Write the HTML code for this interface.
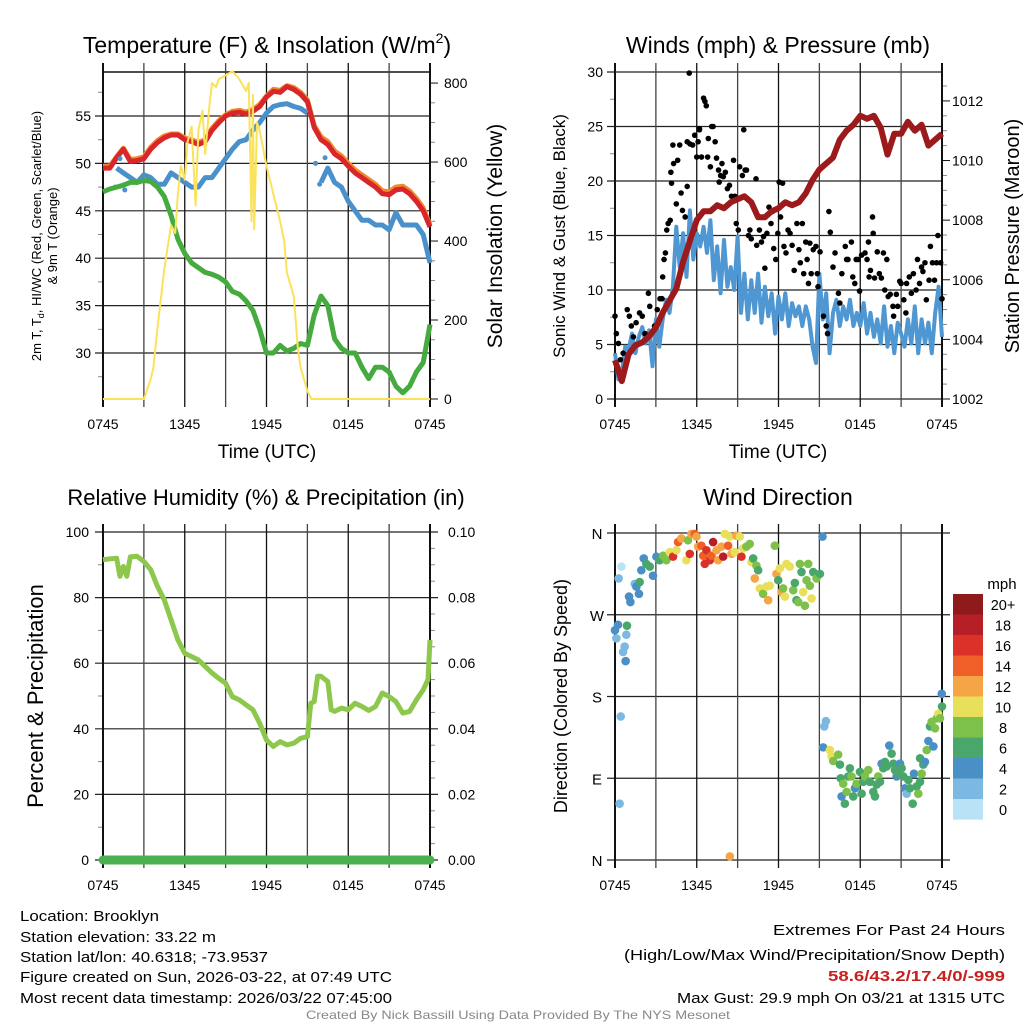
<!DOCTYPE html>
<html><head><meta charset="utf-8">
<style>
html,body{margin:0;padding:0;background:#fff;}
svg{display:block;font-family:"Liberation Sans",Arial,sans-serif;}
</style></head>
<body>
<svg id="c" width="1024" height="1024" viewBox="0 0 1024 1024" xmlns="http://www.w3.org/2000/svg"></svg>
<script>
// ---- data ----
const hours = [0,0.5,1,1.5,2,2.5,3,3.5,4,4.5,5,5.5,6,6.5,7,7.5,8,8.5,9,9.5,10,10.5,11,11.5,12,12.5,13,13.5,14,14.5,15,15.5,16,16.5,17,17.5,18,18.5,19,19.5,20,20.5,21,21.5,22,22.5,23,23.5,24];
const tempRed = [49.5,49.5,50.6,51.5,50.2,50.3,50.5,51.5,52.2,52.7,53.0,53.0,52.5,52.3,52.0,52.3,53.5,54.3,55.0,55.3,55.4,55.2,55.5,56.0,57.0,57.6,57.5,58.1,57.8,57.3,56.5,53.8,52.5,52.0,51.0,50.5,49.7,49.0,48.5,48.0,47.5,46.8,46.7,47.2,47.3,46.8,46.0,45.0,43.3];
const temp9m = [49.7,49.7,50.7,51.6,50.4,50.5,50.7,51.7,52.4,52.9,53.1,53.1,52.7,52.5,52.2,52.5,53.7,54.5,55.1,55.5,55.6,55.4,55.7,56.2,57.1,57.8,57.7,58.2,58.0,57.5,56.7,54.0,52.8,52.3,51.3,50.8,50.0,49.3,48.8,48.3,47.8,47.1,47.0,47.5,47.6,47.1,46.3,45.3,43.5];
const tempBlue = [null,null,49.5,49.0,48.5,48.0,48.8,48.5,47.8,47.8,49.0,48.5,48.0,47.5,47.5,48.5,48.5,49.5,50.5,51.5,52.3,52.5,53.5,54.3,55.3,56.0,56.2,56.3,56.0,55.8,55.3,null,48.0,49.5,48.0,47.5,46.0,45.0,44.0,44.0,43.5,43.5,43.0,44.8,43.5,43.5,43.5,42.5,39.5];
const blueExtraT = [0.9,1.25,1.6,15.6,15.9,16.3];
const blueExtraV = [47.5,50.5,47.2,50.0,47.8,50.6];
const dewGreen = [47.0,47.3,47.5,47.7,48.0,48.0,48.2,48.1,47.5,46.5,44.5,42.0,40.5,39.5,39.0,38.5,38.3,38.0,37.5,36.5,36.2,35.5,34.5,32.5,30.0,30.0,30.8,30.2,30.5,31.0,30.8,34.0,36.0,35.0,31.5,30.5,30.0,30.0,28.5,27.3,28.5,28.5,28.0,26.5,25.8,26.5,28.0,29.0,33.0];
const solarT = [0,3,3.5,3.7,4,4.5,5,5.3,5.5,5.7,6,6.2,6.5,6.8,7,7.3,7.5,7.8,8,8.3,8.5,9,9.5,10,10.5,10.7,10.9,11,11.1,11.3,11.5,12,12.5,13,13.3,13.5,14,14.3,14.5,15,15.3,24];
const solarV = [0,0,50,80,180,330,440,420,520,590,555,650,690,490,680,730,620,740,800,790,810,820,830,810,780,800,450,770,430,700,680,590,520,450,400,320,260,130,80,20,0,0];
const windT = [0,0.25,0.5,0.75,1,1.25,1.5,1.75,2,2.25,2.5,2.75,3,3.25,3.5,3.75,4,4.25,4.5,4.75,5,5.25,5.5,5.75,6,6.25,6.5,6.75,7,7.25,7.5,7.75,8,8.25,8.5,8.75,9,9.25,9.5,9.75,10,10.25,10.5,10.75,11,11.25,11.5,11.75,12,12.25,12.5,12.75,13,13.25,13.5,13.75,14,14.25,14.5,14.75,15,15.25,15.5,15.75,16,16.25,16.5,16.75,17,17.25,17.5,17.75,18,18.25,18.5,18.75,19,19.25,19.5,19.75,20,20.25,20.5,20.75,21,21.25,21.5,21.75,22,22.25,22.5,22.75,23,23.25,23.5,23.75,24];
const windV = [4.2,1.8,2.4,4.8,4.5,6,4.2,5.7,6.6,5.1,6.3,3,7.3,4.8,7.3,9.1,7.9,10.3,15.8,12.1,15.2,11.2,17.3,12.8,15.2,14,15.8,13.4,16.4,10.9,14,9.7,14.6,10.3,12.1,10,14.9,7.9,11.5,7.3,10.9,7.9,11.5,7,10.3,7.6,9.7,6,9.4,7.3,9.7,6.7,8.8,7.6,8.5,6.7,8.5,7.3,4.8,3.3,11.5,7.3,9.7,4.2,7.9,9.1,6.7,8.5,7.3,9.1,6.7,7.9,6.7,8.8,6,7.9,5.7,7.3,5.1,8.5,4.8,6.7,4.2,7,6,4.8,7.3,5.1,8.5,4.2,7.3,5.1,7,4.2,7.9,10.3,5.7];
const pressT = [0,0.5,1,1.5,2,2.5,3,3.5,4,4.5,5,5.5,6,6.5,7,7.5,8,8.5,9,9.5,10,10.5,11,11.5,12,12.5,13,13.5,14,14.5,15,15.5,16,16.5,17,17.5,18,18.5,19,19.5,20,20.5,21,21.5,22,22.5,23,23.5,24];
const pressV = [1003.3,1002.6,1003.5,1003.8,1003.9,1004.1,1004.4,1004.9,1005.3,1005.7,1006.6,1007.3,1008.0,1008.3,1008.3,1008.5,1008.4,1008.6,1008.7,1008.8,1008.6,1008.1,1008.1,1008.3,1008.4,1008.6,1008.5,1008.6,1008.9,1009.35,1009.7,1009.9,1010.1,1010.7,1011.0,1011.2,1011.5,1011.4,1011.5,1011.1,1010.2,1010.9,1010.9,1011.3,1011.0,1011.2,1010.5,1010.7,1010.9];
const gustT = [0,0.1,0.25,0.4,0.6,0.9,1.05,1.2,1.35,1.55,1.8,2,2.2,2.45,2.55,2.9,3.1,3.3,3.45,3.5,3.6,3.7,3.8,3.9,4.05,4.15,4.1,4.3,4.25,4.5,4.6,4.75,4.85,4.95,5.15,5.3,5.3,5.5,5.7,5.85,6,6.1,6.2,6.35,6.5,6.6,6.7,6.8,6.85,7,7.1,7.2,7.35,7.45,7.6,7.65,7.75,7.85,7.95,8.1,8.25,8.4,8.55,8.7,8.8,8.9,9.05,9.15,9.35,9.45,9.55,9.65,9.8,9.9,10,10.35,10.4,10.6,10.75,10.9,11,11.15,11.3,11.45,11.55,11.65,11.8,11.95,12.05,12.15,12.3,12.4,12.55,12.7,12.85,13,13.15,13.35,13.5,13.6,13.75,13.85,14,14.1,14.2,14.3,14.4,14.55,14.75,14.85,14.9,15.05,15.3,15.5,15.6,15.7,15.8,16,16.15,16.4,16.5,16.65,16.9,17,17.1,17.35,17.45,17.6,17.7,17.85,17.95,18.1,18.35,18.5,18.6,18.65,18.75,18.9,18.95,19.05,19.25,19.4,19.55,19.7,19.8,19.95,20.05,20.2,20.4,20.45,20.65,20.75,20.9,21,21.2,21.35,21.4,21.6,21.75,21.9,22.1,22.2,22.35,22.5,22.6,22.75,22.85,23.05,23.15,23.3,23.45,23.6,23.7,23.9,24,5.45,6.2];
const gustV = [7.6,6,5.1,3.6,4.2,8.2,7.6,6.7,5.7,7,7.9,7.6,6,9.7,8.5,6.7,8.2,9.2,9.2,11.2,12.8,13.4,15.5,16.1,16.4,19.8,20.8,21.6,23.3,17.9,21.9,23.3,18.9,17.3,16.7,19.5,23.6,23.4,23.3,24.2,22.2,23.6,24.7,22.2,27.6,27.3,26.9,22.2,23.9,21.3,25,25,23.6,22.1,21,19.9,20.5,21.6,20.4,20.8,19.3,19.6,18.6,21.9,18.6,16.1,15.5,21.3,20.5,24.7,21,21,15,15.5,14.7,20.2,14.1,15.5,14.4,14.9,12,15.2,17.6,16.1,17.2,13.8,12.8,15.2,19.9,16.7,19.8,14,13.4,15.5,15.2,14.1,11.8,16.1,13.7,12.5,16.1,11.5,14.4,12.8,10.6,14.3,11.5,13.7,14,11.5,10.3,13.5,7.6,6.7,6,17.2,15.3,12.1,13.4,9.7,8.8,11.5,14,12.8,12.8,14.4,11.2,10.6,12.8,12.8,9.9,13.2,13.4,12.8,14.4,11.2,11.8,16.7,15.2,11.1,13.5,11.5,11.1,13.4,10,12.8,9.4,9.6,8.5,7.6,9.6,8.5,10.8,10.6,9.1,7.9,10.6,11.2,9.7,11.5,10,12.8,10.6,12.1,11.7,12.5,9.1,10.9,14,12.5,10.9,12.5,15,12.5,9.2,29.9,24.8];
const rhT = [0,0.5,1,1.25,1.5,1.75,2,2.5,3,3.5,4,4.5,5,5.5,6,6.5,7,7.5,8,8.5,9,9.5,10,10.5,11,11.5,12,12.5,13,13.5,14,14.5,15,15.25,15.5,15.75,16,16.5,16.75,17,17.5,18,18.5,19,19.5,20,20.5,21,21.5,22,22.5,23,23.5,23.85,24];
const rhV = [91.6,91.8,92,86.5,89.5,86.5,92.4,92.6,91,88.5,83.4,79.3,73.2,67.1,63,62,61,59,57,55.4,53.9,49.8,48.8,47.3,45.8,41.7,36.6,34.6,36.1,35.1,35.6,37.1,37.6,47.8,48.3,56,56,54.4,45.8,45.3,46.3,45.8,47.8,46.8,45.6,46.8,50.9,49.8,48.3,44.8,45.3,48.8,51.9,55,67.1];
const precipT = [0,24];
const precipV = [0,0];
const wdT = [0.47,0.27,0,0.22,0.1,0.88,0.83,0.71,0.59,0.78,0.42,0.34,1.03,1.13,1.45,1.57,1.76,1.93,2.11,2.3,2.55,2.79,3.04,1.81,3.28,3.53,3.77,4.02,4.26,4.51,4.63,4.87,5.24,5.36,5.49,5.61,5.85,5.98,6.1,6.34,6.47,6.59,6.71,6.96,7.08,7.2,7.45,7.57,7.81,7.94,8.06,8.3,8.43,8.55,8.79,8.91,9.16,9.28,9.4,9.65,9.89,10.02,10.14,10.38,10.51,10.26,10.63,10.87,11.12,11.24,11.36,11.73,11.85,11.98,12.1,12.22,12.34,12.47,12.59,12.83,13.08,13.2,13.32,13.45,13.57,13.69,13.81,13.94,14.06,14.18,14.3,14.43,14.55,14.79,15.04,15.23,8.43,15.36,15.48,15.28,15.77,15.9,16.02,16.38,16.51,16.56,16.63,16.75,16.87,17,17.12,17.24,17.36,17.49,17.61,17.73,17.98,18.1,18.22,18.34,18.59,18.71,18.96,19.08,19.2,19.32,19.45,19.57,19.69,19.81,19.94,20.13,20.3,20.43,20.55,20.67,20.79,20.92,21.04,21.16,21.28,21.41,21.53,21.65,21.85,21.94,22.14,22.26,22.39,22.51,22.63,22.39,22.75,22.88,23,23.12,23.24,23.37,23.49,23.61,23.73,23.85,23.98,24];
const wdDir = [323,310,253,259,244,258,248,235,229,219,158,62,290,284,304,301,293,319,332,326,323,313,334,306,330,335,330,339,334,341,350,354,330,352,337,359,359,356,345,346,335,326,341,330,335,350,341,330,345,334,359,346,356,337,339,357,356,334,343,345,348,328,332,324,319,310,299,293,301,286,302,346,315,308,321,295,299,290,326,323,297,305,286,284,326,317,295,280,308,326,302,288,317,310,315,356,4,147,153,124,121,114,109,116,105,90,70,84,62,75,92,101,92,70,79,84,97,73,86,92,99,86,75,70,83,92,86,106,101,108,103,126,117,106,99,92,95,106,101,92,79,73,88,79,62,95,81,73,86,95,105,112,108,121,131,147,152,125,145,156,161,156,183,169];
const wdSpd = [1,3,5,5,3,7,3,3,3,5,3,3,5,5,3,5,5,5,5,7,7,5,5,7,7,9,9,11,17,11,15,13,11,9,17,13,15,13,13,15,15,17,17,17,15,19,13,13,13,19,11,15,11,13,11,13,11,17,11,9,9,11,7,9,7,13,11,9,11,13,11,9,13,7,11,13,9,11,11,11,9,7,7,9,9,7,11,9,9,9,9,11,7,9,7,5,13,3,3,5,11,11,9,9,7,7,5,9,7,9,7,7,9,7,5,9,7,7,7,9,9,7,7,7,7,9,7,5,7,7,7,5,7,7,7,5,7,5,7,7,5,3,7,7,7,5,7,9,7,9,7,7,5,9,5,7,9,5,9,9,11,9,5,7];
const legendLabels = ["20+","18","16","14","12","10","8","6","4","2","0"];
const legendColors = ["#8e1a1c","#b71f26","#da3228","#ef6029","#f6a546","#e8e05a","#7dc14a","#4aa76c","#4a8fc6","#7bb9e3","#b8e3f7"];
const timeLabels = ["0745","1345","1945","0145","0745"];

// ---- helpers ----
const NS="http://www.w3.org/2000/svg";
const svg=document.getElementById('c');
function mk(tag,attrs,parent){const e=document.createElementNS(NS,tag);for(const k in attrs)e.setAttribute(k,attrs[k]);(parent||svg).appendChild(e);return e;}
function txt(s,x,y,size,anchor,parent,extra){const e=mk('text',Object.assign({x:x,y:y,'font-size':size,'text-anchor':anchor||'middle',fill:'#000'},extra||{}),parent);e.textContent=s;return e;}
function lin(d0,d1,r0,r1){return v=>r0+(v-d0)/(d1-d0)*(r1-r0);}
function pathFrom(ts,vs,xf,yf){let d='',pen=false;for(let i=0;i<ts.length;i++){if(vs[i]===null||vs[i]===undefined){pen=false;continue;}d+=(pen?'L':'M')+xf(ts[i]).toFixed(1)+' '+yf(vs[i]).toFixed(1);pen=true;}return d;}
function spdColor(s){let idx=10-Math.min(10,Math.floor(s/2));return legendColors[idx];}

function frame(g,x0,x1,y0,y1,vgTop){
  for(let k=0;k<=8;k++){const x=x0+k*(x1-x0)/8;mk('line',{x1:x,x2:x,y1:vgTop,y2:y1+8,stroke:k%2?'#444':'#111','stroke-width':k===0||k===8?2:1.3},g);}
  timeLabels.forEach((s,i)=>{const x=x0+i*(x1-x0)/4;txt(s,x,y1+30,14,'middle',g);});
}

// ================= Panel 1: Temperature =================
(function(){
  const g=mk('g',{});
  
  
  const x0=103,x1=430,y0=72,y1=399;
  const xs=lin(0,24,x0,x1), yl=lin(25.15,59.64,y1,y0), yr=lin(0,828,y1,y0);
  [30,35,40,45,50,55].forEach(v=>{mk('line',{x1:x0-8,x2:x1,y1:yl(v),y2:yl(v),stroke:'#222','stroke-width':1.2},g);txt(String(v),x0-12,yl(v)+5,14,'end',g);});
  for(let v=27.5;v<59;v+=5){mk('line',{x1:x0-5,x2:x0,y1:yl(v),y2:yl(v),stroke:'#888'},g);}
  mk('line',{x1:x0,x2:x1,y1:y0,y2:y0,stroke:'#111','stroke-width':1.5},g);
  [0,200,400,600,800].forEach(v=>{mk('line',{x1:x1,x2:x1+8,y1:yr(v),y2:yr(v),stroke:'#111'},g);txt(String(v),x1+14,yr(v)+5,14,'start',g);});
  for(let v=50;v<820;v+=50){if(v%200)mk('line',{x1:x1,x2:x1+5,y1:yr(v),y2:yr(v),stroke:'#888'},g);}
  frame(g,x0,x1,y0,y1,63);
  const p1=mk('path',{d:pathFrom(hours,temp9m,xs,yl),fill:'none',stroke:'#f08a2c','stroke-width':5,'stroke-linejoin':'round'},g);
  
  
  const p2=mk('path',{d:pathFrom(hours,tempRed,xs,yl),fill:'none',stroke:'#d8262a','stroke-width':5,'stroke-linejoin':'round'},g);
  
  
  const p3=mk('path',{d:pathFrom(hours,tempBlue,xs,yl),fill:'none',stroke:'#4a90cb','stroke-width':5,'stroke-linejoin':'round'},g);
  
  
  blueExtraT.forEach((t,i)=>{const c=mk('circle',{cx:xs(t),cy:yl(blueExtraV[i]),r:2.5,fill:'#4a90cb'},g);
    
    });
  const p4=mk('path',{d:pathFrom(hours,dewGreen,xs,yl),fill:'none',stroke:'#46ab3e','stroke-width':5,'stroke-linejoin':'round'},g);
  
  
  const p5=mk('path',{d:pathFrom(solarT,solarV,xs,yr),fill:'none',stroke:'#fbe25a','stroke-width':2,'stroke-linejoin':'round'},g);
  
  
})();

// ================= Panel 2: Winds & Pressure =================
(function(){
  const g=mk('g',{});
  
  
  const x0=615,x1=942,y0=72,y1=399;
  const xs=lin(0,24,x0,x1), yl=lin(0,30,y1,y0), yr=lin(1002,1012.97,y1,y0);
  [0,5,10,15,20,25,30].forEach(v=>{mk('line',{x1:x0-8,x2:x1,y1:yl(v),y2:yl(v),stroke:'#222','stroke-width':1.2},g);txt(String(v),x0-12,yl(v)+5,14,'end',g);});
  for(let v=2.5;v<30;v+=5){mk('line',{x1:x0-5,x2:x0,y1:yl(v),y2:yl(v),stroke:'#888'},g);}
  [1002,1004,1006,1008,1010,1012].forEach(v=>{mk('line',{x1:x1,x2:x1+8,y1:yr(v),y2:yr(v),stroke:'#111'},g);txt(String(v),x1+10,yr(v)+5,14,'start',g);});
  for(let v=1002.5;v<1013;v+=0.5){if(v%2)mk('line',{x1:x1,x2:x1+5,y1:yr(v),y2:yr(v),stroke:'#888'},g);}
  frame(g,x0,x1,y0,y1,63);
  const w=mk('path',{d:pathFrom(windT,windV,xs,yl),fill:'none',stroke:'#4f97d2','stroke-width':4,'stroke-linejoin':'round'},g);
  
  
  gustT.forEach((t,i)=>{const c=mk('circle',{cx:xs(t),cy:yl(gustV[i]),r:2.8,fill:'#000'},g);
    
    });
  const p=mk('path',{d:pathFrom(pressT,pressV,xs,yr),fill:'none',stroke:'#9c1a1c','stroke-width':6,'stroke-linejoin':'round'},g);
  
  
})();

// ================= Panel 3: RH & Precip =================
(function(){
  const g=mk('g',{});
  
  
  const x0=103,x1=430,y0=532,y1=860;
  const xs=lin(0,24,x0,x1), yl=lin(0,100,y1,y0), yr=lin(0,0.1,y1,y0);
  [0,20,40,60,80,100].forEach(v=>{mk('line',{x1:x0-8,x2:x1+8,y1:yl(v),y2:yl(v),stroke:'#222','stroke-width':1.2},g);txt(String(v),x0-14,yl(v)+5,14,'end',g);});
  for(let v=10;v<100;v+=20){mk('line',{x1:x0-5,x2:x0,y1:yl(v),y2:yl(v),stroke:'#888'},g);}
  ["0.00","0.02","0.04","0.06","0.08","0.10"].forEach((s,i)=>{txt(s,x1+18,yl(i*20)+5,14,'start',g);});
  for(let v=5;v<100;v+=5){if(v%20)mk('line',{x1:x1,x2:x1+5,y1:yl(v),y2:yl(v),stroke:'#888'},g);}
  frame(g,x0,x1,y0,y1,524);
  const r=mk('path',{d:pathFrom(rhT,rhV,xs,yl),fill:'none',stroke:'#8dc74b','stroke-width':5,'stroke-linejoin':'round'},g);
  
  
  const pr=mk('path',{d:pathFrom(precipT,precipV,xs,yr),fill:'none',stroke:'#4bb04f','stroke-width':9,'stroke-linecap':'round'},g);
  
  
})();

// ================= Panel 4: Wind Direction =================
(function(){
  const g=mk('g',{});
  
  
  const x0=615,x1=942,y0=533,y1=860;
  const xs=lin(0,24,x0,x1), yd=lin(0,360,y1,y0);
  [[0,'N'],[90,'E'],[180,'S'],[270,'W'],[360,'N']].forEach(([v,s])=>{mk('line',{x1:x0-8,x2:x1+8,y1:yd(v),y2:yd(v),stroke:'#222','stroke-width':1.2},g);txt(s,x0-18,yd(v)+6,15,'middle',g);});
  frame(g,x0,x1,y0,y1,524);
  wdT.forEach((t,i)=>{const c=mk('circle',{cx:xs(t),cy:yd(wdDir[i]),r:4.3,fill:spdColor(wdSpd[i])},g);
    
    });
  const lg=mk('g',{},g);
  
  
  txt('mph',1002,589,15,'middle',lg);
  legendColors.forEach((c,i)=>{const r=mk('rect',{x:953,y:594+i*20.5,width:30,height:20.6,fill:c},lg);
    
    
    txt(legendLabels[i],1003,610+i*20.5,14.5,'middle',lg);});
})();

// ================= Titles & labels =================
function lab(s,x,y,size,name,rot,anchor){const e=txt(s,x,y,size,anchor||'middle',svg,rot?{transform:'rotate(-90 '+x+' '+y+')'}:{});return e;}
const t1=txt('',267,53,23,'middle');t1.innerHTML='Temperature (F) &amp; Insolation (W/m<tspan font-size="14" dy="-10">2</tspan><tspan dy="10">)</tspan>';


lab('Winds (mph) & Pressure (mb)',778,53,23,'winds-title');
lab('Relative Humidity (%) & Precipitation (in)',266,505,22,'humidity-title');
lab('Wind Direction',778,505,23,'wind-direction-title');
lab('Time (UTC)',267,458,19,'x-axis-title-temp');
lab('Time (UTC)',778,458,19,'x-axis-title-winds');
const yt=txt('',41,236,13,'middle',svg,{transform:'rotate(-90 41 236)'});yt.innerHTML='2m T, T<tspan font-size="9" dy="3">d</tspan><tspan dy="-3">, HI/WC (Red, Green, Scarlet/Blue)</tspan>';


lab('& 9m T (Orange)',57,236,13,'y-axis-title-temp-2',true);
lab('Solar Insolation (Yellow)',502,236,21,'y-axis-title-solar',true);
lab('Sonic Wind & Gust (Blue, Black)',565,236,17,'y-axis-title-wind',true);
lab('Station Pressure (Maroon)',1019,236,20,'y-axis-title-pressure',true);
lab('Percent & Precipitation',43,696,22,'y-axis-title-humidity',true);
lab('Direction (Colored By Speed)',567,696,18,'y-axis-title-direction',true);

// ================= Footer =================
const leftLines=[['Location: Brooklyn',921,139],['Station elevation: 33.22 m',942,196],['Station lat/lon: 40.6318; -73.9537',962,248],['Figure created on Sun, 2026-03-22, at 07:49 UTC',982,372],['Most recent data timestamp: 2026/03/22 07:45:00',1003,372]];
leftLines.forEach(([s,y,w],i)=>{const e=txt(s,20,y,15,'start',svg,{textLength:w,lengthAdjust:'spacingAndGlyphs'});});
const r1=txt('Extremes For Past 24 Hours',1005,935,15,'end',svg,{textLength:232,lengthAdjust:'spacingAndGlyphs'});


const r2=txt('(High/Low/Max Wind/Precipitation/Snow Depth)',1005,960,15,'end',svg,{textLength:381,lengthAdjust:'spacingAndGlyphs'});


const r3=txt('58.6/43.2/17.4/0/-999',1005,981,15,'end',svg,{fill:'#c8201f','font-weight':'bold',textLength:177,lengthAdjust:'spacingAndGlyphs'});


const r4=txt('Max Gust: 29.9 mph On 03/21 at 1315 UTC',1005,1003,15,'end',svg,{textLength:328,lengthAdjust:'spacingAndGlyphs'});


const cr=txt('Created By Nick Bassill Using Data Provided By The NYS Mesonet',518,1019,12,'middle',svg,{fill:'#888',textLength:424,lengthAdjust:'spacingAndGlyphs'});


</script>
</body></html>
